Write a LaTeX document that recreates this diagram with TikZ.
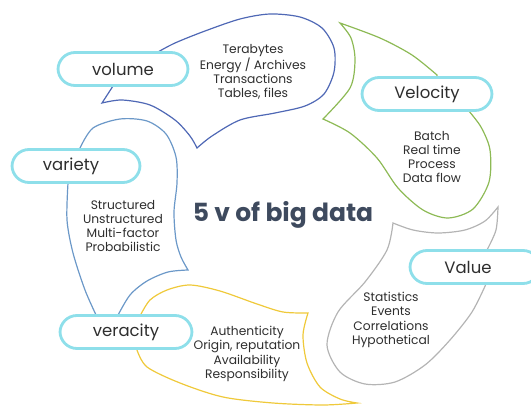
\documentclass[tikz,border=0pt]{standalone}
\usepackage{fontspec}
\setmainfont{Poppins}
\definecolor{boxc}{HTML}{8EDFEA}
\definecolor{volc}{HTML}{4F68B5}
\definecolor{varc}{HTML}{6B98C8}
\definecolor{velc}{HTML}{8DBA55}
\definecolor{valc}{HTML}{B4B4B4}
\definecolor{verc}{HTML}{EFC93A}
\definecolor{titc}{HTML}{3E4A5E}
\definecolor{txtc}{HTML}{2E2E2E}
\begin{document}
\begin{tikzpicture}[x=1pt,y=-1pt,
  petal/.style={line width=1.2pt, line join=miter},
  vbox/.style={draw=boxc, line width=2.8pt, fill=white, rounded corners=17pt,
    minimum height=33pt, inner sep=0pt, font=\fontsize{16.5}{18}\selectfont, text=txtc},
  body/.style={align=center, font=\fontsize{12.3}{14.2}\selectfont, text=txtc, inner sep=0pt}]
\useasboundingbox (0,0) rectangle (531,412);
% volume petal
\draw[petal, volc] (113,86) -- (102,103)
  -- plot[smooth, tension=0.5] coordinates {(102,103) (122,100) (150,105) (175,120) (190,136) (197,148)}
  -- plot[smooth, tension=0.5] coordinates {(197,148) (212,136) (240,120) (275,113) (305,106) (324,94) (334,72) (334,48) (322,28) (300,17) (270,14) (240,19) (205,31) (175,43) (158,52)}
  -- (130,70) -- cycle;
% variety petal
\draw[petal, varc] (80,160)
  -- plot[smooth, tension=0.5] coordinates {(80,148) (93,128) (120,119) (147,121) (166,134) (176,157) (177,183) (174,212) (176,240) (181,257) (188,270)}
  -- plot[smooth, tension=0.5] coordinates {(188,270) (168,272) (147,281) (130,295) (117,317)}
  -- (107,328)
  -- plot[smooth, tension=0.5] coordinates {(97,317) (85,290) (73,253) (67,220) (68,183)}
  -- cycle;
% velocity petal
\draw[petal, velc] (437,90)
  -- plot[smooth, tension=0.5] coordinates {(437,75) (412,55) (380,38) (340,23)}
  -- plot[smooth, tension=0.5] coordinates {(340,23) (351,38) (355,60) (350,88) (323,119)}
  -- plot[smooth, tension=0.5] coordinates {(323,119) (350,133) (377,158) (398,188) (423,210) (448,218) (473,209) (489,182) (490,150) (481,127) (468,110)}
  -- cycle;
% value petal
\draw[petal, valc] (487,262)
  -- plot[smooth, tension=0.5] coordinates {(487,250) (496,230) (498,207)}
  -- plot[smooth, tension=0.5] coordinates {(498,207) (485,221) (465,230) (438,233) (413,230) (393,223)}
  -- plot[smooth, tension=0.5] coordinates {(393,223) (387,250) (365,282) (338,312) (327,345) (340,372) (365,384) (395,382) (425,365) (450,340) (472,312) (486,284)}
  -- cycle;
% veracity petal
\draw[petal, verc] (137,332)
  -- plot[smooth, tension=0.5] coordinates {(140,316) (150,300) (167,290) (190,285) (220,291) (257,304) (283,312) (308,313)}
  -- plot[smooth, tension=0.5] coordinates {(308,313) (303,335) (307,363) (320,387) (340,399) (357,403)}
  -- plot[smooth, tension=0.5] coordinates {(357,403) (323,405) (273,403) (223,397) (180,383) (147,367) (137,350)}
  -- cycle;
% boxes
\node[vbox, minimum width=130pt] (volume) at (123,69) {volume};
\node[vbox, minimum width=130pt] (velocity) at (427,94) {Velocity};
\node[vbox, minimum width=128pt] (variety) at (76,166) {\hspace*{-10pt}variety};
\node[vbox, minimum width=130pt] (value) at (475,267) {\hspace*{-14pt}Value};
\node[vbox, minimum width=132pt] (veracity) at (126,332) {veracity};
% texts
\node[body] (volt) at (253,72) {Terabytes\\Energy / Archives\\Transactions\\Tables, files};
\node[body] (velt) at (432,157) {Batch\\Real time\\Process\\Data flow};
\node[body] (vart) at (123,226) {Structured\\Unstructured\\Multi-factor\\Probabilistic};
\node[body] (valt) at (391,320) {Statistics\\Events\\Correlations\\Hypothetical};
\node[body] (vert) at (247,354) {Authenticity\\Origin, reputation\\Availability\\Responsibility};
\node[font=\fontsize{25}{28}\selectfont\bfseries, text=titc, inner sep=0pt] (title) at (283,215) {5 v of big data};
\end{tikzpicture}
\end{document}
